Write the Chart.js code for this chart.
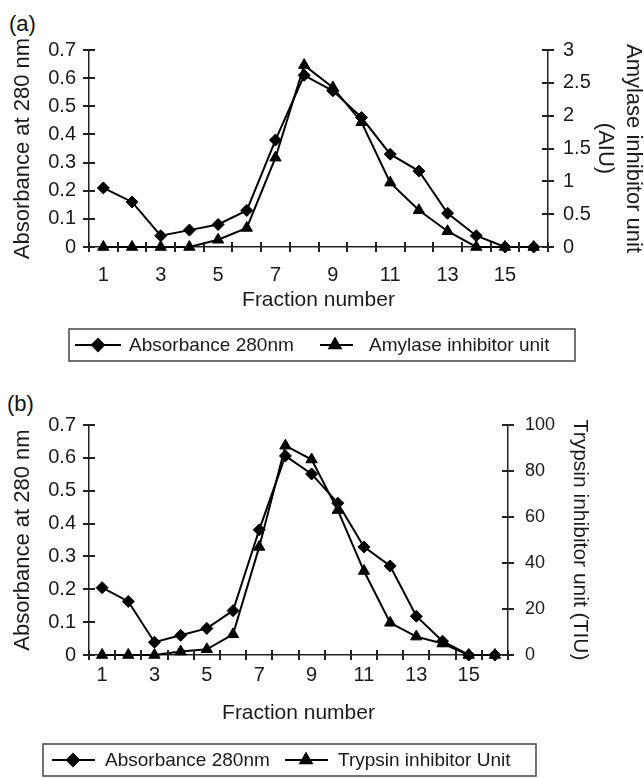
<!DOCTYPE html>
<html>
<head>
<meta charset="utf-8">
<script src="https://cdn.jsdelivr.net/npm/chart.js@4"></script>
<style>
  body { margin: 0; background: #fff; }
  #wrap { position: relative; width: 644px; height: 778px; }
  canvas { position: absolute; left: 0; }
  .panel { position: absolute; font: 22px Arial, "Liberation Sans", sans-serif; color: #111; }
</style>
</head>
<body>
<div id="wrap">
  <div class="panel" style="left:9px; top:11px;">(a)</div>
  <div class="panel" style="left:7px; top:391px;">(b)</div>
  <canvas id="chartA" width="644" height="370" style="top:0"></canvas>
  <canvas id="chartB" width="644" height="398" style="top:380px"></canvas>
</div>
<script>
// fraction numbers 1..16
var fractions = ['1','2','3','4','5','6','7','8','9','10','11','12','13','14','15','16'];

// (a) absorbance and amylase inhibitor units
var absorbanceA = [0.21, 0.16, 0.04, 0.06, 0.08, 0.13, 0.38, 0.61, 0.555, 0.46, 0.33, 0.27, 0.12, 0.04, 0, 0];
var amylaseAIU  = [0, 0, 0, 0, 0.11, 0.29, 1.36, 2.77, 2.43, 1.9, 0.98, 0.56, 0.24, 0, 0, 0];

// (b) absorbance and trypsin inhibitor units
var absorbanceB = [0.205, 0.163, 0.039, 0.06, 0.081, 0.135, 0.381, 0.606, 0.551, 0.462, 0.329, 0.271, 0.118, 0.042, 0, 0];
var trypsinTIU  = [0, 0, 0, 1.5, 2.5, 9, 47, 91, 85, 63, 36.5, 14, 8, 5, 0, 0];

var FONT = 'Arial, "Liberation Sans", sans-serif';
var INK = '#1a1a1a';

// excel style: tick marks crossing the axis lines + boxed legend
var excelLook = {
  id: 'excelLook',
  afterDraw: function (chart, args, opts) {
    var ctx = chart.ctx, area = chart.chartArea;
    ctx.save();

    // ticks sit between the categories on x
    ctx.fillStyle = '#222';
    var xs = chart.scales.x;
    var n = xs.ticks.length;
    var step = xs.width / n;
    for (var i = 0; i <= n; i++) {
      var px = Math.round(xs.left + i * step);
      ctx.fillRect(px - 1, area.bottom - 5, 2, 10);
    }
    [chart.scales.y, chart.scales.y2].forEach(function (s) {
      var ax = s.position === 'left' ? area.left : area.right;
      s.ticks.forEach(function (t) {
        var py = Math.round(s.getPixelForValue(t.value));
        ctx.fillRect(ax - 6, py - 1, 12, 2);
      });
    });

    var b = opts.box;
    ctx.strokeStyle = '#444';
    ctx.lineWidth = 1.5;
    ctx.strokeRect(b.x, b.y, b.w, b.h);
    var cy = b.y + b.h / 2;
    opts.items.forEach(function (it) {
      ctx.strokeStyle = '#000';
      ctx.lineWidth = 2;
      ctx.beginPath();
      ctx.moveTo(it.x1, cy);
      ctx.lineTo(it.x2, cy);
      ctx.stroke();
      ctx.fillStyle = '#000';
      Chart.helpers.drawPoint(ctx, { pointStyle: it.style, radius: it.r, rotation: 0, borderWidth: 1 }, it.mx, cy);
      ctx.fillStyle = INK;
      ctx.font = '19px ' + FONT;
      ctx.textBaseline = 'middle';
      ctx.textAlign = 'left';
      ctx.fillText(it.label, it.tx, cy + 1);
    });
    ctx.restore();
  }
};

function lineSet(label, data, axis, style, r) {
  return {
    label: label,
    data: data,
    yAxisID: axis,
    clip: false,
    borderColor: '#000',
    backgroundColor: '#000',
    borderWidth: 2,
    pointStyle: style,
    pointRadius: r,
    pointBorderWidth: 1,
    pointBackgroundColor: '#000',
    pointBorderColor: '#000',
    tension: 0
  };
}

function absTick(v) {
  return v === 0 ? '0' : v.toFixed(1);
}

function makeChart(el, cfg) {
  return new Chart(document.getElementById(el), {
    type: 'line',
    data: {
      labels: fractions,
      datasets: [
        lineSet(cfg.names[0], cfg.abs, 'y', 'rectRot', 6),
        lineSet(cfg.names[1], cfg.units, 'y2', 'triangle', 6.5)
      ]
    },
    options: {
      responsive: false,
      animation: false,
      devicePixelRatio: 1,
      layout: { padding: cfg.pad },
      plugins: {
        legend: { display: false },
        tooltip: { enabled: false },
        excelLook: cfg.legend
      },
      scales: {
        x: {
          type: 'category',
          offset: true,
          afterFit: function (s) { s.height = cfg.xh; },
          grid: { display: false, drawTicks: false, tickLength: 0, offset: true },
          border: { display: true, color: '#222', width: 1.5 },
          ticks: {
            autoSkip: false, maxRotation: 0, padding: cfg.xpad, color: INK,
            font: { family: FONT, size: 20 },
            callback: function (v, i) { return i % 2 === 0 ? fractions[i] : ''; }
          },
          title: {
            display: true, text: 'Fraction number', color: INK,
            font: { family: FONT, size: 21 }, padding: { top: 0, bottom: cfg.xtpad }
          }
        },
        y: {
          position: 'left',
          min: 0, max: 0.7,
          afterFit: function (s) { s.width = 89; },
          grid: { display: false, drawTicks: false, tickLength: 0 },
          border: { display: true, color: '#222', width: 1.5 },
          ticks: { stepSize: 0.1, padding: 13, color: INK, font: { family: FONT, size: 20 }, callback: absTick },
          title: {
            display: true, text: 'Absorbance at 280 nm', color: INK,
            font: { family: FONT, size: 22 }, padding: { top: 10, bottom: 0 }
          }
        },
        y2: {
          position: 'right',
          min: 0, max: cfg.umax,
          afterFit: function (s) { s.width = cfg.rw; },
          grid: { display: false, drawTicks: false, tickLength: 0 },
          border: { display: true, color: '#222', width: 1.5 },
          ticks: {
            stepSize: cfg.ustep, padding: cfg.rpad, color: INK,
            font: { family: FONT, size: cfg.rsize },
            callback: function (v) { return String(+v.toFixed(1)); }
          },
          title: {
            display: true, text: cfg.utitle, color: INK,
            font: { family: FONT, size: cfg.utsize, lineHeight: '28px' },
            padding: { top: cfg.utpad, bottom: 0 }
          }
        }
      }
    },
    plugins: [excelLook]
  });
}

makeChart('chartA', {
  names: ['Absorbance 280nm', 'Amylase inhibitor unit'],
  abs: absorbanceA,
  units: amylaseAIU,
  pad: { top: 50, bottom: 50, left: 0, right: 0 },
  xh: 73, xpad: 16, xtpad: 7,
  umax: 3, ustep: 0.5, rw: 96, rpad: 15, rsize: 20,
  utitle: ['Amylase inhibitor unit', '(AIU)'], utsize: 22, utpad: -3,
  legend: {
    box: { x: 69, y: 329, w: 506, h: 32 },
    items: [
      { x1: 75, x2: 121, mx: 98, style: 'rectRot', r: 6, tx: 129, label: 'Absorbance 280nm' },
      { x1: 320, x2: 353, mx: 335, style: 'triangle', r: 6.5, tx: 369, label: 'Amylase inhibitor unit' }
    ]
  }
});

makeChart('chartB', {
  names: ['Absorbance 280nm', 'Trypsin inhibitor Unit'],
  abs: absorbanceB,
  units: trypsinTIU,
  pad: { top: 45, bottom: 48, left: 0, right: 50 },
  xh: 75, xpad: 8, xtpad: 4,
  umax: 100, ustep: 20, rw: 86, rpad: 17, rsize: 18,
  utitle: 'Trypsin inhibitor unit (TIU)', utsize: 21, utpad: 0,
  legend: {
    box: { x: 43, y: 364, w: 493, h: 32 },
    items: [
      { x1: 52, x2: 95, mx: 73, style: 'rectRot', r: 6, tx: 105, label: 'Absorbance 280nm' },
      { x1: 285, x2: 328, mx: 306, style: 'triangle', r: 6.5, tx: 338, label: 'Trypsin inhibitor Unit' }
    ]
  }
});
</script>
</body>
</html>
